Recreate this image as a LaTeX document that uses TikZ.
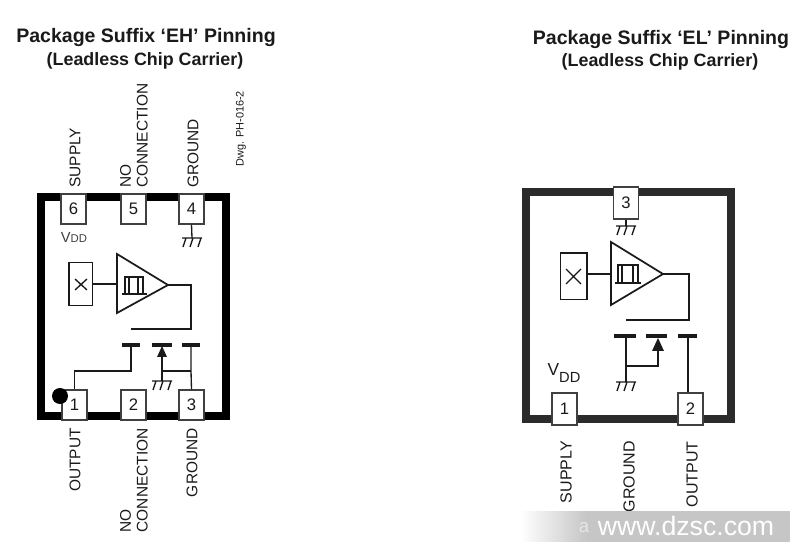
\documentclass[tikz,border=0pt]{standalone}
\usepackage{fontspec}
\setmainfont{Liberation Sans}
\usetikzlibrary{calc}
\definecolor{ink}{HTML}{1A1A1A}
\definecolor{frameR}{HTML}{2B2B2B}
\definecolor{wmgray}{HTML}{C6C6C6}
\tikzset{
  x=0.75pt,y=-0.75pt,
  title/.style={font=\bfseries\fontsize{14.65pt}{16pt}\selectfont,text=ink,inner sep=0pt},
  subtitle/.style={font=\bfseries\fontsize{13.4pt}{14pt}\selectfont,text=ink,inner sep=0pt},
  pinlabel/.style={font=\fontsize{11.6pt}{12.5pt}\selectfont,text=ink,inner sep=0pt,rotate=90,align=left},
  pinbox/.style={draw=black!75,fill=white,line width=1pt,inner sep=0pt,minimum width=18.9pt,minimum height=#1,text height=8.6pt,text depth=0pt,font=\fontsize{12.5pt}{12pt}\selectfont,text=ink},
  pinbox/.default=22.5pt,
  wire/.style={line width=1pt,draw=ink},
  pulse/.style={line width=0.8pt,draw=ink},
  gate/.style={line width=2.7pt,draw=ink},
  amp/.style={line width=1.3pt,draw=ink},
  frm/.style={line width=6pt,draw=#1},
  gnd/.pic={\draw[wire] (-10,0)--(10,0) (-6,0)--(-9,9) (1,0)--(-2,9) (9,0)--(6,9);},
}
\begin{document}
\begin{tikzpicture}
\useasboundingbox (0,0) rectangle (800,548);
% titles
\node[title] (t1) at (146,37) {Package Suffix ‘EH’ Pinning};
\node[subtitle] (s1) at (145,61) {(Leadless Chip Carrier)};
\node[title] (t2) at (661,39) {Package Suffix ‘EL’ Pinning};
\node[subtitle] (s2) at (660,62) {(Leadless Chip Carrier)};
% ---------- EH ----------
\draw[frm=black] (41,197) rectangle (226,416);
\node[pinbox] (p6) at (73.5,209) {6};
\node[pinbox] (p5) at (133.5,209) {5};
\node[pinbox] (p4) at (191.5,209) {4};
\node[pinbox] (p1) at (74.5,405) {1};
\node[pinbox] (p2) at (133.5,405) {2};
\node[pinbox] (p3) at (191.5,405) {3};
\fill[black] (60,396) circle (8);
\node[inner sep=0pt,font=\fontsize{11pt}{12pt}\selectfont,text=black!75] (vdd1) at (74,237) {V\fontsize{8.5pt}{10pt}\selectfont DD};
\node[pinlabel,anchor=west] (l6) at (75,188) {SUPPLY};
\node[pinlabel,anchor=west] (l5) at (134,188) {NO\\CONNECTION};
\node[pinlabel,anchor=west] (l4) at (193,188) {GROUND};
\node[pinlabel,anchor=east] (l1) at (75,428) {OUTPUT};
\node[pinlabel,anchor=east] (l2) at (134,428) {NO\\CONNECTION};
\node[pinlabel,anchor=east] (l3) at (192,428) {GROUND};
\node[inner sep=0pt,rotate=90,font=\fontsize{8.2pt}{9pt}\selectfont,text=ink,anchor=west] (dwg) at (241,167) {Dwg. PH-016-2};
% ground under 4
\coordinate (g4) at (192,238);
\draw[wire] (p4.south) -- (g4);
\pic at (g4) {gnd};
% hall element & amp
\node[draw=ink,line width=1pt,inner sep=0pt,minimum width=17.5pt,minimum height=32pt] (xb1) at (80.5,284) {};
\draw[wire] (75,279)--(87,290) (75,290)--(87,279);
\draw[amp] (117,254)--(168,285)--(117,313)--cycle;
\coordinate (a1in) at (117,284);
\coordinate (a1out) at (168,285);
\draw[wire] (xb1.east|-a1in) -- (a1in);
\draw[pulse] (122,294)--(147,294) (125,294)--(125,277)--(143,277)--(143,294) (129,277)--(129,294) (138,277)--(138,294);
\coordinate (g1a) at (191,285);
\coordinate (g1b) at (191,329);
\coordinate (g1c) at (131,329);
\draw[wire] (a1out) -- (g1a) -- (g1b) -- (g1c);
% transistor
\coordinate (gl1) at (131,345);
\coordinate (gm1) at (162,345);
\coordinate (gr1) at (191,345);
\draw[gate] (122,345)--(140,345) (152,345)--(172,345) (182,345)--(200,345);
\coordinate (j1) at (131,371);
\draw[wire] (p1.north) -- (p1.north|-j1) -- (j1) -- (gl1);
\coordinate (j2) at (162,371);
\coordinate (j3) at (191,371);
\draw[wire] (gr1) -- (j3) -- (p3.north);
\draw[wire] (j3) -- (j2) -- (162,356);
\fill[ink] (162,346)--(157,357)--(167,357)--cycle;
\coordinate (g1g) at (162,381);
\draw[wire] (j2) -- (g1g);
\pic at (g1g) {gnd};
% ---------- EL ----------
\draw[frm=frameR] (526,192) rectangle (731,419);
\node[pinbox=24pt] (q3) at (626,203) {3};
\node[pinbox=24pt] (q1) at (564.5,409) {1};
\node[pinbox=24pt] (q2) at (690.5,409) {2};
\node[inner sep=0pt,font=\fontsize{13pt}{12pt}\selectfont,text=ink] (vdd2) at (564,373) {V\raisebox{-5pt}{\fontsize{11pt}{12pt}\selectfont DD}};
\node[pinlabel,anchor=east,font=\fontsize{12pt}{12.5pt}\selectfont] (r1) at (566,441) {SUPPLY};
\node[pinlabel,anchor=east,font=\fontsize{12pt}{12.5pt}\selectfont] (r2) at (629,441) {GROUND};
\node[pinlabel,anchor=east,font=\fontsize{12pt}{12.5pt}\selectfont] (r3) at (692,441) {OUTPUT};
\coordinate (g3) at (626,226);
\draw[wire] (q3.south) -- (g3);
\pic at (g3) {gnd};
\node[draw=ink,line width=1pt,inner sep=0pt,minimum width=20pt,minimum height=35pt] (xb2) at (573.5,276.5) {};
\draw[wire] (566,269)--(581,284) (566,284)--(581,269);
\draw[amp] (611,242)--(663,274)--(611,305)--cycle;
\coordinate (a2in) at (611,274);
\coordinate (a2out) at (663,274);
\draw[wire] (xb2.east|-a2in) -- (a2in);
\draw[pulse] (615,283)--(641,283) (618,283)--(618,265)--(638,265)--(638,283) (622,265)--(622,283) (633,265)--(633,283);
\coordinate (g2a) at (689,274);
\coordinate (g2b) at (689,320);
\coordinate (g2c) at (626,320);
\draw[wire] (a2out) -- (g2a) -- (g2b) -- (g2c);
\draw[gate] (614,336)--(636,336) (646,336)--(667,336) (678,336)--(697,336);
\coordinate (k1) at (626,336);
\coordinate (k2) at (626,366);
\coordinate (k3) at (658,366);
\coordinate (k4) at (626,382);
\draw[wire] (k1) -- (k4);
\draw[wire] (k2) -- (k3) -- (658,350);
\fill[ink] (658,338)--(652,351)--(664,351)--cycle;
\pic at (k4) {gnd};
\coordinate (k5) at (688,336);
\draw[wire] (k5) -- (k5|-q2.north);
% ---------- watermark ----------
\fill[wmgray] (588,511) rectangle (790,542);
\foreach \i in {0,...,33} {
  \pgfmathsetmacro{\pct}{\i*100/33}
  \fill[wmgray!\pct!white] ({520+2*\i},511) rectangle ({522.5+2*\i},542);
}
\node[inner sep=0pt,font=\fontsize{20pt}{22pt}\selectfont,text=white] (wm) at (686,526) {www.dzsc.com};
\node[inner sep=0pt,font=\fontsize{14pt}{16pt}\selectfont,text=black!10] (wa) at (584,528) {a};
\end{tikzpicture}
\end{document}
